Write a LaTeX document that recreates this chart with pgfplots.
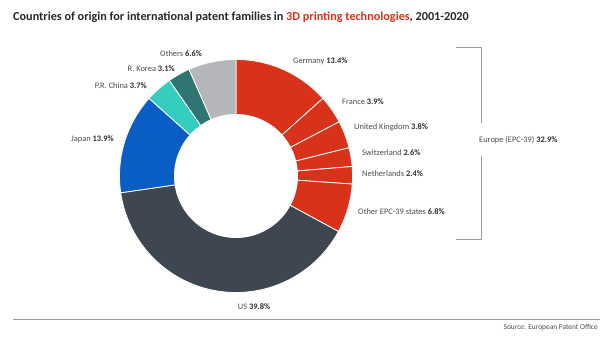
\documentclass[border=0pt]{standalone}
\usepackage{pgfplots}
\pgfplotsset{compat=1.18}
\usepackage{pgfplotstable}
\usepackage{fontspec}
\setmainfont{Carlito}
\definecolor{eured}{HTML}{D9321A}
\definecolor{usgray}{HTML}{3E4651}
\definecolor{jpblue}{HTML}{0A5DC4}
\definecolor{cnturq}{HTML}{35CDBE}
\definecolor{krteal}{HTML}{2F7572}
\definecolor{othgray}{HTML}{B4B6BA}
\definecolor{titlecol}{HTML}{26282B}
\definecolor{lblcol}{HTML}{4A4C50}
\definecolor{valcol}{HTML}{2E3034}
\definecolor{rulecol}{HTML}{9A9A9A}
% shares (%) clockwise from 12 o'clock: start and end of each cumulative share
\pgfplotstableread{
name       start  end
Germany     0.0   13.4
France     13.4   17.3
UK         17.3   21.1
Switzerland 21.1  23.7
Netherlands 23.7  26.1
OtherEPC   26.1   32.9
US         32.9   72.7
Japan      72.7   86.6
China      86.6   90.3
Korea      90.3   93.4
Others     93.4  100.0
}\shares
\newcommand{\seg}[3]{%
  \addplot[fill=#3, draw=white, line width=0.8pt, domain={90-3.6*(#2)}:{90-3.6*(#1)}, samples=80]
    ({cos(x)},{sin(x)}) -- (axis cs:0,0) -- cycle;}
\newcommand{\lbl}[2]{{\color{lblcol}#1} {\color{valcol}\bfseries #2}}
\begin{document}
\begin{tikzpicture}[x=1pt,y=1pt]
\fill[white] (0,0) rectangle (606,345);
\begin{axis}[
  at={(236pt,169pt)}, anchor=center,
  scale only axis, width=233pt, height=233pt,
  xmin=-1, xmax=1, ymin=-1, ymax=1,
  hide axis, clip=false]
\seg{0.0}{13.4}{eured}
\seg{13.4}{17.3}{eured}
\seg{17.3}{21.1}{eured}
\seg{21.1}{23.7}{eured}
\seg{23.7}{26.1}{eured}
\seg{26.1}{32.9}{eured}
\seg{32.9}{72.7}{usgray}
\seg{72.7}{86.6}{jpblue}
\seg{86.6}{90.3}{cnturq}
\seg{90.3}{93.4}{krteal}
\seg{93.4}{100.0}{othgray}
\addplot[fill=white, draw=none, domain=0:360, samples=120] ({0.532*cos(x)},{0.532*sin(x)}) -- cycle;
\end{axis}
% title
\node[anchor=base west, inner sep=0, font=\fontsize{12.2}{14}\selectfont\bfseries, text=titlecol] at (13,324)
  {Countries of origin for international patent families in {\color{eured}3D printing technologies}, 2001-2020};
% labels
\begin{scope}[every node/.style={inner sep=0, font=\fontsize{8.4}{10}\selectfont}]
\node[anchor=west] at (160,291) {\lbl{Others}{6.6\%}};
\node[anchor=east] at (175,276) {\lbl{R. Korea}{3.1\%}};
\node[anchor=east] at (147,259) {\lbl{P.R. China}{3.7\%}};
\node[anchor=east] at (114,206) {\lbl{Japan}{13.9\%}};
\node[anchor=west] at (293,284) {\lbl{Germany}{13.4\%}};
\node[anchor=west] at (342,243) {\lbl{France}{3.9\%}};
\node[anchor=west] at (354,218) {\lbl{United Kingdom}{3.8\%}};
\node[anchor=west] at (362,192) {\lbl{Switzerland}{2.6\%}};
\node[anchor=west] at (362,171) {\lbl{Netherlands}{2.4\%}};
\node[anchor=west] at (358,133) {\lbl{Other EPC-39 states}{6.8\%}};
\node[anchor=center] at (254,38) {\lbl{US}{39.8\%}};
\node[anchor=west] at (479,205) {\lbl{Europe (EPC-39)}{32.9\%}};
\end{scope}
% bracket
\draw[rulecol, line width=0.9pt] (456,298) -- (481,298) -- (481,222);
\draw[rulecol, line width=0.9pt] (481,189) -- (481,106) -- (456,106);
% bottom rule and source
\draw[rulecol, line width=0.9pt] (13,26) -- (600,26);
\node[anchor=east, inner sep=0, font=\fontsize{7.4}{9}\selectfont, text=lblcol] at (598,17) {Source: European Patent Office};
\end{tikzpicture}
\end{document}
